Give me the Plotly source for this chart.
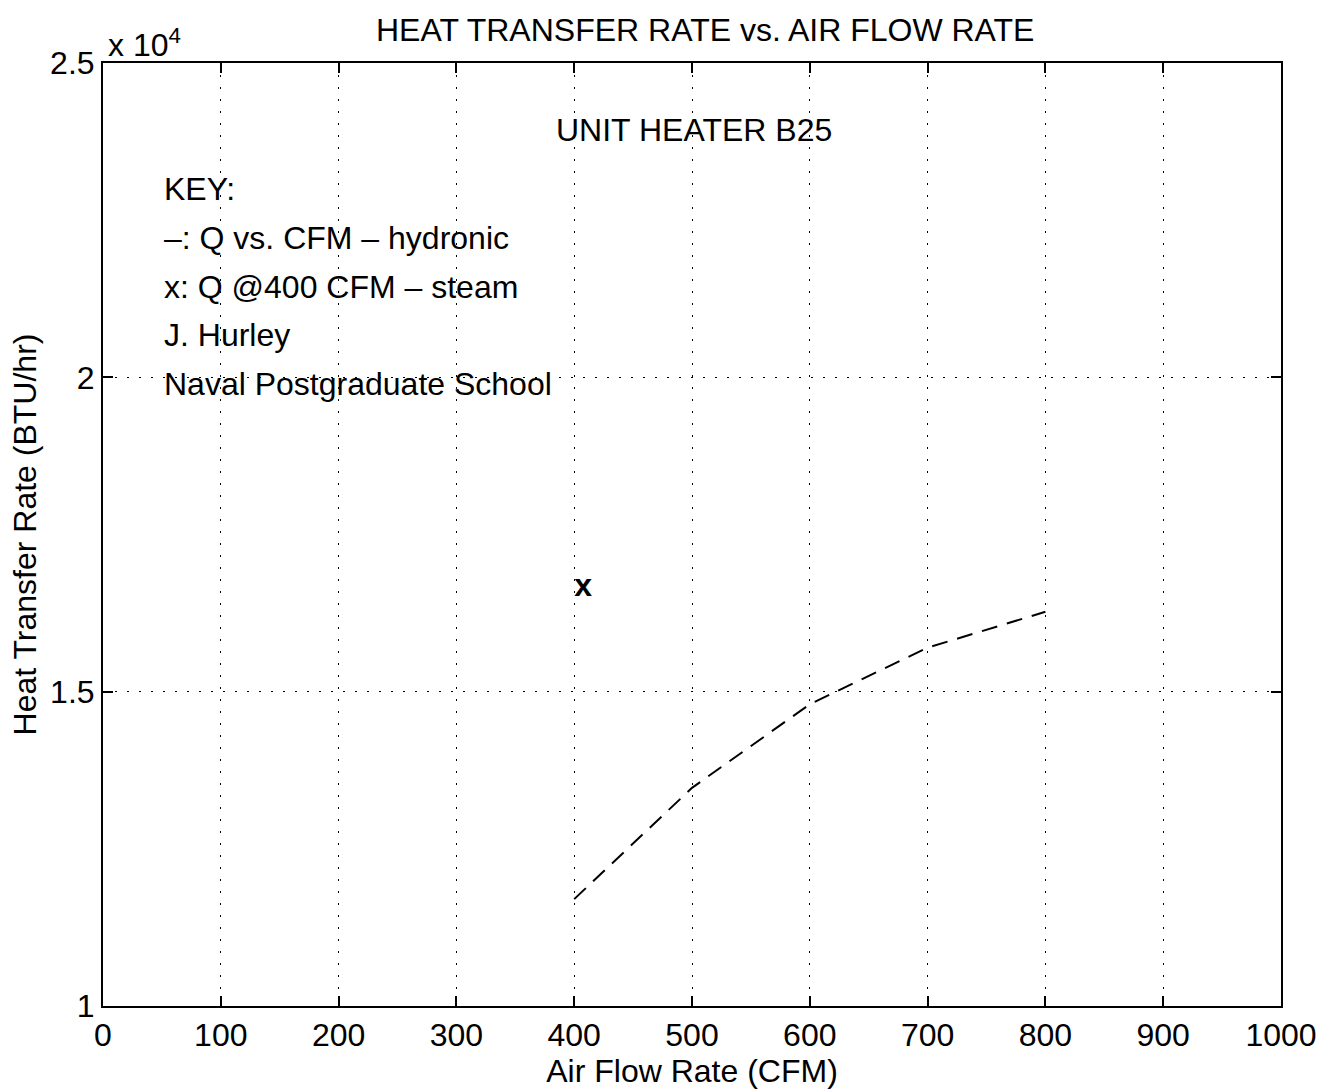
import plotly.graph_objects as go

# Data
cfm = [400, 500, 600, 700, 800]
q_hydronic = [11700, 13470, 14800, 15700, 16270]
steam_cfm = [400]
steam_q = [16650]

x_ticks = [0, 100, 200, 300, 400, 500, 600, 700, 800, 900, 1000]
y_ticks = [10000, 15000, 20000, 25000]
y_ticktext = ["1", "1.5", "2", "2.5"]

key_lines = ["KEY:", "\u2013: Q vs. CFM \u2013 hydronic", "x: Q @400 CFM \u2013 steam",
             "J. Hurley", "Naval Postgraduate School"]
key_y = [23000, 22220, 21440, 20670, 19900]

FONT = "Liberation Sans, Arial, Helvetica, sans-serif"
FS = 32

fig = go.Figure()
fig.add_trace(go.Scatter(x=cfm, y=q_hydronic, mode="lines",
                         line=dict(color="black", width=2, dash="16px,10px"),
                         showlegend=False))
fig.add_trace(go.Scatter(x=steam_cfm, y=steam_q, mode="text", text=["<b>x</b>"],
                         textposition="middle right",
                         textfont=dict(family=FONT, size=32, color="black"),
                         showlegend=False))

for t, yv in zip(key_lines, key_y):
    fig.add_annotation(x=50, y=yv, xref="x", yref="y", text=t, showarrow=False,
                       xanchor="left", yanchor="middle",
                       font=dict(family=FONT, size=FS, color="black"))
fig.add_annotation(x=383, y=23940, xref="x", yref="y", text="UNIT HEATER B25",
                   showarrow=False, xanchor="left", yanchor="middle",
                   font=dict(family=FONT, size=FS, color="black"))

# paper coords relative to plot area (l=103, b=83, w=1184, h=944)
fig.add_annotation(x=(708 - 103) / 1184, y=(1007 - 30) / 944, xref="paper", yref="paper",
                   text="HEAT TRANSFER RATE vs. AIR FLOW RATE", showarrow=False,
                   xanchor="center", yanchor="middle",
                   font=dict(family=FONT, size=FS, color="black"))
fig.add_annotation(x=(106 - 103) / 1184, y=(1007 - 43) / 944, xref="paper", yref="paper",
                   text="x 10<sup>4</sup>", showarrow=False,
                   xanchor="left", yanchor="middle",
                   font=dict(family=FONT, size=FS, color="black"))

fig.update_xaxes(range=[0, 1000], tickvals=x_ticks, ticks="inside", ticklen=10,
                 tickcolor="black", tickwidth=2, showline=True, linecolor="black",
                 linewidth=2, mirror="ticks", showgrid=True, gridcolor="black",
                 gridwidth=1, griddash="2px,10px", zeroline=False,
                 tickfont=dict(family=FONT, size=FS, color="black"),
                 title=dict(text="Air Flow Rate (CFM)", standoff=2,
                            font=dict(family=FONT, size=FS, color="black")))
fig.update_yaxes(range=[10000, 25000], tickvals=y_ticks, ticktext=y_ticktext,
                 ticks="inside", ticklen=10, tickcolor="black", tickwidth=2,
                 showline=True, linecolor="black", linewidth=2, mirror="ticks",
                 showgrid=True, gridcolor="black", gridwidth=1, griddash="2px,10px",
                 zeroline=False,
                 tickfont=dict(family=FONT, size=FS, color="black"),
                 title=dict(text="Heat Transfer Rate (BTU/hr)", standoff=4,
                            font=dict(family=FONT, size=FS, color="black")))

fig.update_layout(width=1329, height=1090,
                  margin=dict(l=103, r=42, t=63, b=83),
                  paper_bgcolor="white", plot_bgcolor="white")

fig.write_html("out.html")
